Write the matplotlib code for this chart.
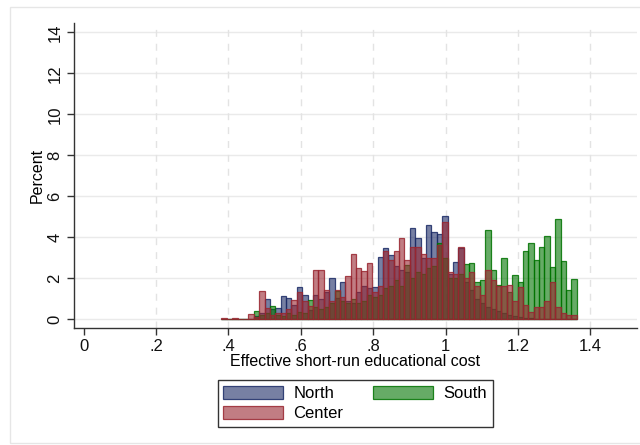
import numpy as np
import matplotlib
matplotlib.use("Agg")
import matplotlib.pyplot as plt
from matplotlib.patches import Patch, Rectangle

plt.rcParams['font.family'] = ['Liberation Sans', 'DejaVu Sans']

# histogram bins (lower edges derived from start & width)
bin_start = 0.3807
bin_width = 0.01487

north = [0, 0, 0, 0, 0,
         0.0, 0.15, 0.3, 1.0, 0.5, 0.55, 1.15, 1.05, 0.7, 1.55,
         1.2, 0.45, 1.2, 1.0, 1.3, 2.0, 1.05, 1.82, 0.9, 0.8,
         1.3, 1.6, 1.5, 1.58, 3.04, 3.46, 3.12, 2.6, 2.4, 2.3,
         4.45, 3.97, 3.0, 4.6, 4.26, 4.13, 5.04, 2.2, 2.8, 3.45,
         1.8, 1.4, 1.0, 0.8, 0.6, 0.5, 0.4, 0.3, 0.2, 0.15,
         0.1, 0.05, 0.05, 0.0, 0.0, 0.0, 0.0, 0.0, 0.0, 0.0, 0.0]
center = [0.05, 0, 0.05, 0, 0,
          0.25, 0.1, 1.35, 0.55, 0.2, 0.3, 0.3, 0.5, 0.95, 1.3,
          0.9, 0.65, 2.38, 2.38, 1.4, 0.9, 1.4, 1.1, 2.1, 3.2,
          2.5, 2.36, 2.72, 1.3, 1.6, 3.3, 2.9, 3.3, 3.94, 2.9,
          3.5, 3.5, 3.2, 3.0, 3.0, 3.6, 4.75, 2.3, 2.2, 3.53,
          2.0, 2.3, 1.6, 1.2, 2.4, 1.9, 1.6, 1.6, 1.66, 0.9,
          1.57, 0.7, 0.35, 0.6, 0.6, 0.9, 1.82, 0.6, 0.3, 0.2, 0.2]
south = [0, 0, 0, 0, 0,
         0.0, 0.4, 0.2, 0.3, 0.65, 0.2, 0.15, 0.3, 0.2, 0.35,
         0.3, 0.93, 0.6, 0.5, 0.6, 0.8, 1.38, 0.9, 0.8, 1.0,
         0.8, 0.9, 1.2, 1.1, 1.2, 1.5, 1.6, 1.9, 1.6, 2.65,
         2.0, 2.3, 2.2, 2.5, 2.6, 3.7, 3.0, 2.0, 2.0, 2.2,
         2.7, 2.75, 1.8, 1.9, 4.34, 2.4, 1.66, 2.96, 1.3, 2.15,
         1.8, 3.3, 3.7, 2.88, 3.53, 4.06, 2.55, 4.91, 2.83, 1.41, 1.95]

x_ticks = [0, 0.2, 0.4, 0.6, 0.8, 1.0, 1.2, 1.4]
x_ticklabels = ["0", ".2", ".4", ".6", ".8", "1", "1.2", "1.4"]
y_ticks = [0, 2, 4, 6, 8, 10, 12, 14]

c_north = (0.11, 0.17, 0.40)
c_center = (0.60, 0.15, 0.19)
c_south = (0.0, 0.45, 0.0)

fig = plt.figure(figsize=(6.4, 4.45), dpi=100)
fig.patches.append(Rectangle((10/640, 0.005), 0.99, 1 - 7/445 - 0.005,
                             transform=fig.transFigure, fill=False,
                             edgecolor='#e6e6e6', linewidth=1))
ax = fig.add_axes([73.5/640, 1 - 328.3/445, 1 - 73.5/640 - 0.005, (328.3 - 22.7)/445])

lefts = bin_start + bin_width * np.arange(len(north))

def draw(vals, col, alpha_f=0.6, alpha_e=0.85):
    ax.bar(lefts, vals, width=bin_width, align='edge',
           facecolor=col + (alpha_f,), edgecolor=col + (alpha_e,),
           linewidth=0.9, zorder=3)

draw(north, c_north)
draw(south, c_south)
draw(center, c_center)

ax.set_xlim(-0.028, 1.528)
ax.set_ylim(-0.45, 14.47)
ax.set_xticks(x_ticks)
ax.set_xticklabels(x_ticklabels)
ax.set_yticks(y_ticks)
ax.set_yticklabels([str(v) for v in y_ticks], rotation=90, va='center')

for y in y_ticks:
    ax.axhline(y, color='#eaeaea', linewidth=1, zorder=1)
for x in x_ticks[1:]:
    ax.axvline(x, color='#e3e3e3', linewidth=1, linestyle=(0, (5, 5)), zorder=1)

for s in ['top', 'right']:
    ax.spines[s].set_visible(False)
for s in ['left', 'bottom']:
    ax.spines[s].set_color('#333333')
    ax.spines[s].set_linewidth(1)

ax.tick_params(axis='both', direction='out', length=5, width=1, color='#333333',
               labelsize=12, labelcolor='#111111')
ax.tick_params(axis='x', pad=3)
ax.tick_params(axis='y', pad=3)

ax.set_xlabel("Effective short-run educational cost", fontsize=11.5, labelpad=0)
ax.set_ylabel("Percent", fontsize=11.5, labelpad=2)

handles = [Patch(facecolor=c_north + (0.6,), edgecolor=c_north + (0.85,), linewidth=0.9),
           Patch(facecolor=c_center + (0.6,), edgecolor=c_center + (0.85,), linewidth=0.9),
           Patch(facecolor=c_south + (0.6,), edgecolor=c_south + (0.85,), linewidth=0.9)]
leg = fig.legend(handles, ["North", "Center", "South"], ncol=2,
                 loc='center', bbox_to_anchor=(355.3/640, 1 - 403.5/445),
                 bbox_transform=fig.transFigure, fontsize=12,
                 handlelength=3.6, handleheight=0.85, columnspacing=1.8,
                 handletextpad=0.6, labelspacing=0.3, borderpad=0.35,
                 frameon=True, fancybox=False)
leg.get_frame().set_edgecolor('black')
leg.get_frame().set_linewidth(1)

fig.savefig("out.png", dpi=100, facecolor='white')
